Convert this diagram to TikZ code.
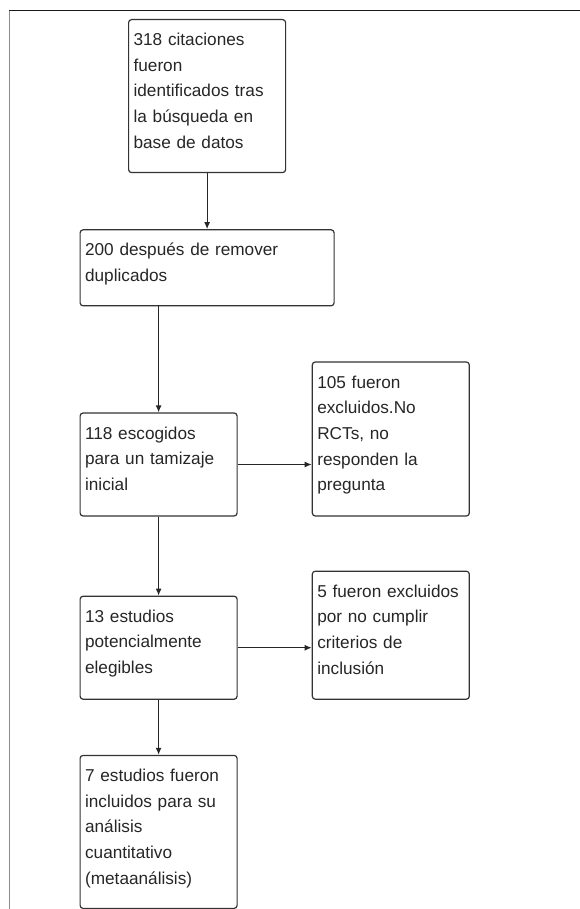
\documentclass[tikz,border=0pt]{standalone}
\usepackage{fontspec}
\setmainfont{Liberation Sans}
\usetikzlibrary{arrows.meta,positioning}

\begin{document}
\begin{tikzpicture}[
    font=\fontsize{17.2}{25.7}\selectfont,
    >=Latex,
    box/.style={
        rectangle, draw=black!80, line width=1.2pt,
        rounded corners=3pt, align=left, text=black!85,
        inner xsep=5pt, inner ysep=0pt,
        text width=147pt, text height=26pt
    },
    arrow/.style={-{Latex[length=7pt,width=6pt]}, line width=1.2pt, black!85},
]
  \useasboundingbox (0,0) rectangle (580pt,-909pt);

  %––– Frame ––––––––––––––––––––––––––––––––––––––––––––––––
  \draw[black!90, line width=1pt] (9pt,-11pt) -- (580pt,-11pt);
  \draw[black!45, line width=1.5pt] (9.5pt,-11pt) -- (9.5pt,-909pt);

  %––– Main column ––––––––––––––––––––––––––––––––––––––––––
  \node (found) [box, text depth=127pt, anchor=north west] at (128pt,-19pt)
      {318 citaciones\\fueron\\identificados tras\\la búsqueda en\\base de datos};

  \node (dedup) [box, text width=244pt, text depth=50pt, below=56pt of found]
      {200 después de remover\\duplicados};

  \node (screen) [box, text depth=77pt, below=106pt of dedup.south west, anchor=north west]
      {118 escogidos\\para un tamizaje\\inicial};

  \node (eligible) [box, text depth=77pt, below=79pt of screen]
      {13 estudios\\potencialmente\\elegibles};

  \node (included) [box, text depth=127pt, below=55pt of eligible]
      {7 estudios fueron\\incluidos para su\\análisis\\cuantitativo\\(metaanálisis)};

  %––– Exclusions (bottom aligned) ––––––––––––––––––––––––––
  \node (excl1) [box, text depth=128pt, right=74pt of screen.south east, anchor=south west]
      {105 fueron\\excluidos.No\\RCTs, no\\responden la\\pregunta};

  \node (excl2) [box, text depth=102pt, right=74pt of eligible.south east, anchor=south west]
      {5 fueron excluidos\\por no cumplir\\criterios de\\inclusión};

  %––– Arrows –––––––––––––––––––––––––––––––––––––––––––––––
  \draw[arrow] (found.south) -- (found.south |- dedup.north);
  \draw[arrow] (screen.north |- dedup.south) -- (screen.north);
  \draw[arrow] (screen.east) -- (screen.east -| excl1.west);
  \draw[arrow] (screen.south) -- (eligible.north);
  \draw[arrow] (eligible.east) -- (eligible.east -| excl2.west);
  \draw[arrow] (eligible.south) -- (included.north);
\end{tikzpicture}
\end{document}
